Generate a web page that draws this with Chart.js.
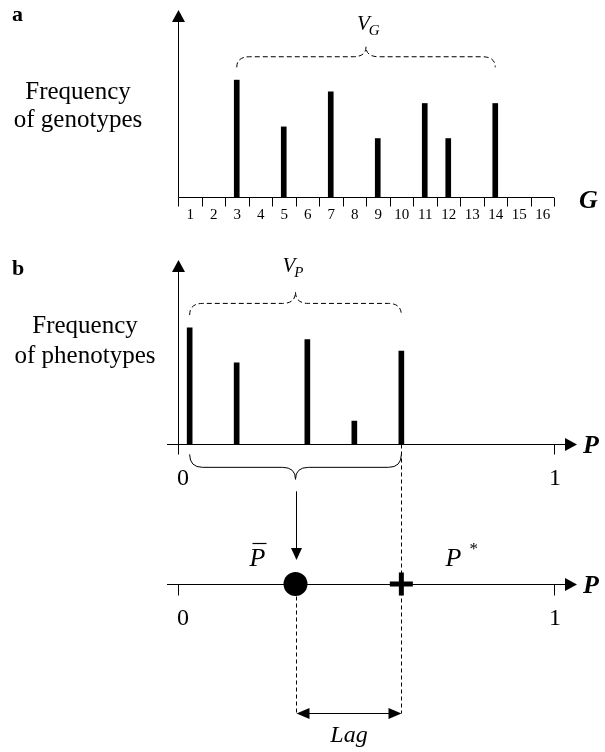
<!DOCTYPE html>
<html>
<head>
<meta charset="utf-8">
<script src="https://cdn.jsdelivr.net/npm/chart.js@4.4.0/dist/chart.umd.min.js"></script>
<style>
  html, body { margin: 0; padding: 0; background: #fff; }
  #wrap { position: relative; width: 605px; height: 752px; }
  canvas { position: absolute; left: 0; top: 0; }
</style>
</head>
<body>
<div id="wrap">
  <canvas id="genoChart" width="605" height="752"></canvas>
  <canvas id="phenoChart" width="605" height="752"></canvas>
</div>
<script>
// panel a: frequency of each genotype class
const genotypes = ["1", "2", "3", "4", "5", "6", "7", "8", "9", "10", "11", "12", "13", "14", "15", "16"];
const genoFreq = [null, null, 10, null, 6, null, 9, null, 5, null, 8, 5, null, 8, null, null];

// panel b: phenotype values (0..1) and their frequency
const phenotypes = [0.031, 0.156, 0.344, 0.469, 0.594];
const phenoFreq = [10, 7, 9, 2, 8];
const meanP = 0.3125;   // P bar
const optP = 0.594;     // P*
const pTicks = [0, 1];

const SERIF = '"Liberation Serif", "Times New Roman", serif';
const LINE_LEVEL = -12;   // lower number line, in units of the y scale
const LAG_LEVEL = -23.1;

const px = v => Math.round(v) + 0.5;

function line(ctx, x1, y1, x2, y2) {
  ctx.beginPath();
  ctx.moveTo(x1, y1);
  ctx.lineTo(x2, y2);
  ctx.stroke();
}

// filled arrow head, tip at (x, y)
function head(ctx, x, y, dir, len, half) {
  ctx.beginPath();
  ctx.moveTo(x, y);
  if (dir === "up") { ctx.lineTo(x - half, y + len); ctx.lineTo(x + half, y + len); }
  if (dir === "down") { ctx.lineTo(x - half, y - len); ctx.lineTo(x + half, y - len); }
  if (dir === "right") { ctx.lineTo(x - len, y - half); ctx.lineTo(x - len, y + half); }
  if (dir === "left") { ctx.lineTo(x + len, y - half); ctx.lineTo(x + len, y + half); }
  ctx.closePath();
  ctx.fill();
}

function brace(ctx, x1, x2, yEnd, yFlat, yTip, r) {
  const xm = (x1 + x2) / 2;
  ctx.beginPath();
  ctx.moveTo(x1, yEnd);
  ctx.quadraticCurveTo(x1, yFlat, x1 + r, yFlat);
  ctx.lineTo(xm - r, yFlat);
  ctx.quadraticCurveTo(xm, yFlat, xm, yTip);
  ctx.quadraticCurveTo(xm, yFlat, xm + r, yFlat);
  ctx.lineTo(x2 - r, yFlat);
  ctx.quadraticCurveTo(x2, yFlat, x2, yEnd);
  ctx.stroke();
}

function text(ctx, s, x, y, font, align) {
  ctx.font = font;
  ctx.textAlign = align || "left";
  ctx.fillText(s, x, y);
}

// V with a subscript letter
function varLabel(ctx, sub, x, y) {
  ctx.font = "italic 21px " + SERIF;
  ctx.textAlign = "left";
  ctx.fillText("V", x, y);
  const w = ctx.measureText("V").width;
  ctx.font = "italic 15px " + SERIF;
  ctx.fillText(sub, x + w - 1, y + 5);
}

const genoDecor = {
  id: "genoDecor",
  afterDatasetsDraw(chart) {
    const { ctx, scales: { x, y } } = chart;
    const x0 = px(x.left), base = px(y.getPixelForValue(0));
    const w = (x.right - x.left) / genotypes.length;
    ctx.save();
    ctx.strokeStyle = "#000";
    ctx.fillStyle = "#000";
    ctx.lineWidth = 1;

    // axes
    line(ctx, x0, base, x0, y.top + 10);
    head(ctx, x0, y.top, "up", 12, 6.5);
    line(ctx, x0, base, x.right, base);
    for (let i = 0; i <= genotypes.length; i++) {
      const tx = px(x.left + i * w);
      line(ctx, tx, base, tx, base + 9);
    }
    ctx.textBaseline = "alphabetic";
    genotypes.forEach((g, i) => text(ctx, g, x.getPixelForValue(i) + 0.5, base + 21, "15px " + SERIF, "center"));

    // dashed brace over the genotypes present
    const x1 = x.getPixelForValue(2), x2 = x.getPixelForValue(13);
    const flat = y.getPixelForValue(12);
    ctx.setLineDash([5, 3]);
    brace(ctx, x1, x2, y.getPixelForValue(11.1), flat, y.getPixelForValue(12.85), 13);
    ctx.setLineDash([]);
    varLabel(ctx, "G", (x1 + x2) / 2 - 9, flat - 27);

    // texts
    text(ctx, "a", 12, 21, "bold 22px " + SERIF);
    text(ctx, "Frequency", 78, 99, "25px " + SERIF, "center");
    text(ctx, "of genotypes", 78, 127, "25px " + SERIF, "center");
    text(ctx, "G", 579, 208, "bold italic 26px " + SERIF);
    ctx.restore();
  }
};

const phenoAxes = {
  id: "phenoAxes",
  beforeDatasetsDraw(chart) {
    const { ctx, scales: { x, y } } = chart;
    const X = v => x.getPixelForValue(v), Y = v => y.getPixelForValue(v);
    const base = px(Y(0)), lineY = px(Y(LINE_LEVEL)), lagY = px(Y(LAG_LEVEL));
    ctx.save();
    ctx.strokeStyle = "#000";
    ctx.fillStyle = "#000";
    ctx.lineWidth = 1;

    // frequency axes
    line(ctx, px(X(0)), base + 10, px(X(0)), y.top + 12);
    head(ctx, px(X(0)), y.top + 2, "up", 12, 6.5);
    line(ctx, X(0) - 11, base, X(1) + 12, base);
    head(ctx, X(1) + 23, base, "right", 12, 6.5);
    line(ctx, px(X(1)), base, px(X(1)), base + 10);

    // lower number line
    line(ctx, X(0) - 11, lineY, X(1) + 12, lineY);
    head(ctx, X(1) + 23, lineY, "right", 12, 6.5);
    pTicks.forEach(t => line(ctx, px(X(t)), lineY, px(X(t)), lineY + 11));

    // dashed guides down to the lag arrow
    ctx.setLineDash([4, 3]);
    line(ctx, px(X(optP)), base, px(X(optP)), lagY);
    line(ctx, px(X(meanP)), lineY + 12, px(X(meanP)), lagY);
    ctx.setLineDash([]);
    ctx.restore();
  },
  afterDatasetsDraw(chart) {
    const { ctx, scales: { x, y } } = chart;
    const X = v => x.getPixelForValue(v), Y = v => y.getPixelForValue(v);
    const base = Y(0), lineY = Y(LINE_LEVEL), lagY = px(Y(LAG_LEVEL));
    const x1 = X(phenotypes[0]), x2 = X(phenotypes[phenotypes.length - 1]);
    const xm = px(X(meanP)), xo = px(X(optP));
    ctx.save();
    ctx.strokeStyle = "#000";
    ctx.fillStyle = "#000";
    ctx.lineWidth = 1;

    // dashed brace above, solid brace below
    const flat = Y(12.1);
    ctx.setLineDash([5, 3]);
    brace(ctx, x1, x2, Y(11.1), flat, Y(13.1), 13);
    ctx.setLineDash([]);
    varLabel(ctx, "P", (x1 + x2) / 2 - 13, flat - 31);
    brace(ctx, x1, x2, base + 10, base + 23, base + 35, 13);

    // arrow from the brace to the mean
    line(ctx, xm, base + 47, xm, lineY - 30);
    head(ctx, xm, lineY - 24, "down", 12, 5.5);

    // lag arrow
    line(ctx, xm + 10, lagY, xo - 10, lagY);
    head(ctx, xm, lagY, "left", 13, 5.5);
    head(ctx, xo, lagY, "right", 13, 5.5);
    text(ctx, "Lag", (xm + xo) / 2, lagY + 28, "italic 24px " + SERIF, "center");

    // tick labels
    [base, lineY].forEach(b => {
      text(ctx, "0", X(0) + 5, b + 41, "24px " + SERIF, "center");
      text(ctx, "1", X(1) + 1, b + 41, "24px " + SERIF, "center");
      text(ctx, "P", X(1) + 29, b + 9, "bold italic 26px " + SERIF);
    });

    // P bar and P*
    text(ctx, "P", xm - 47, lineY - 18, "italic 26px " + SERIF);
    ctx.lineWidth = 1.2;
    line(ctx, xm - 44, px(lineY - 41), xm - 30, px(lineY - 41));
    text(ctx, "P", xo + 44, lineY - 18, "italic 26px " + SERIF);
    text(ctx, "*", xo + 68, lineY - 30, "17px " + SERIF);

    text(ctx, "b", 12, 275, "bold 22px " + SERIF);
    text(ctx, "Frequency", 85, 333, "25px " + SERIF, "center");
    text(ctx, "of phenotypes", 85, 363, "25px " + SERIF, "center");
    ctx.restore();
  }
};

new Chart(document.getElementById("genoChart"), {
  type: "bar",
  data: {
    labels: genotypes,
    datasets: [{ data: genoFreq, backgroundColor: "#000", barThickness: 5 }]
  },
  options: {
    responsive: false,
    animation: false,
    events: [],
    layout: { padding: { left: 178, right: 51, top: 10, bottom: 752 - 197 } },
    scales: {
      x: { display: false },
      y: { display: false, min: 0, max: 16 }
    },
    plugins: { legend: { display: false }, tooltip: { enabled: false } }
  },
  plugins: [genoDecor]
});

// panel b frame: y = 0 sits at B_BASE, y = B_MAX at B_TOP
const B_TOP = 258, B_BASE = 445, B_MIN = -25, B_MAX = 16;
const bBottom = B_BASE + (B_BASE - B_TOP) * (-B_MIN) / B_MAX;

new Chart(document.getElementById("phenoChart"), {
  type: "bar",
  data: {
    datasets: [
      {
        data: phenotypes.map((p, i) => ({ x: p, y: phenoFreq[i] })),
        backgroundColor: "#000",
        barThickness: 5
      },
      {
        type: "scatter",
        data: [{ x: meanP, y: LINE_LEVEL }],
        pointRadius: 12,
        backgroundColor: "#000",
        borderWidth: 0
      },
      {
        type: "scatter",
        data: [{ x: optP, y: LINE_LEVEL }],
        pointStyle: "cross",
        pointRadius: 11.5,
        borderColor: "#000",
        borderWidth: 5
      }
    ]
  },
  options: {
    responsive: false,
    animation: false,
    events: [],
    layout: { padding: { left: 178, right: 51, top: B_TOP, bottom: 752 - bBottom } },
    scales: {
      x: { type: "linear", display: false, min: 0, max: 1, offset: false },
      y: { display: false, min: B_MIN, max: B_MAX }
    },
    plugins: { legend: { display: false }, tooltip: { enabled: false } }
  },
  plugins: [phenoAxes]
});
</script>
</body>
</html>
